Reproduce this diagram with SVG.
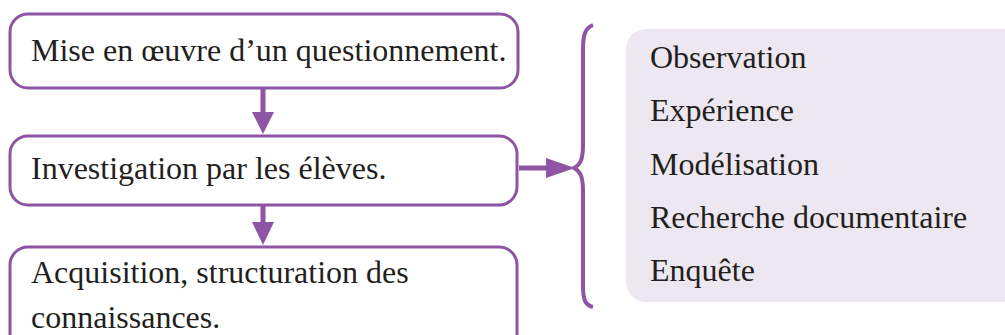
<svg xmlns="http://www.w3.org/2000/svg" width="1005" height="335" viewBox="0 0 1005 335">
<style>
.box{fill:#fff;stroke:#8d55a3;stroke-width:3}
.t{font-family:"Liberation Serif","Times New Roman",serif;font-size:32px;fill:#231f20}
.c{stroke:#8d55a3;stroke-width:5;fill:none}
.h{fill:#8d55a3}
</style>
<rect x="0" y="0" width="1005" height="335" fill="#fff"/>
<g id="panel">
<rect x="626" y="29" width="400" height="273" rx="20" fill="#ede7f1"/>
<text class="t" x="650" y="68">Observation</text>
<text class="t" x="650" y="121">Expérience</text>
<text class="t" x="650" y="175">Modélisation</text>
<text class="t" x="650" y="228">Recherche documentaire</text>
<text class="t" x="650" y="281">Enquête</text>
</g>
<g id="n1">
<rect class="box" x="10" y="14" width="508" height="74" rx="18"/>
<text class="t" x="31" y="61">Mise en œuvre d’un questionnement.</text>
</g>
<g id="n2">
<rect class="box" x="10" y="136" width="507" height="69" rx="18"/>
<text class="t" x="31" y="179">Investigation par les élèves.</text>
</g>
<g id="n3">
<rect class="box" x="10" y="247" width="507" height="110" rx="18"/>
<text class="t" x="31" y="283">Acquisition, structuration des</text>
<text class="t" x="31" y="328">connaissances.</text>
</g>
<g id="connectors">
<line class="c" x1="263" y1="88" x2="263" y2="115"/>
<polygon class="h" points="252,112 274,112 263,134"/>
<line class="c" x1="263" y1="205" x2="263" y2="226"/>
<polygon class="h" points="252,222 274,222 263,245"/>
<line class="c" x1="519" y1="168" x2="552" y2="168"/>
<polygon class="h" points="546,158 575,168 546,178"/>
<path d="M593,25 C585,28 583,35 583,50 L583,145 C583,160 580,165 574,168 C580,171 583,176 583,191 L583,285 C583,300 585,305 593,307" fill="none" stroke="#8d55a3" stroke-width="4"/>
</g>
</svg>
